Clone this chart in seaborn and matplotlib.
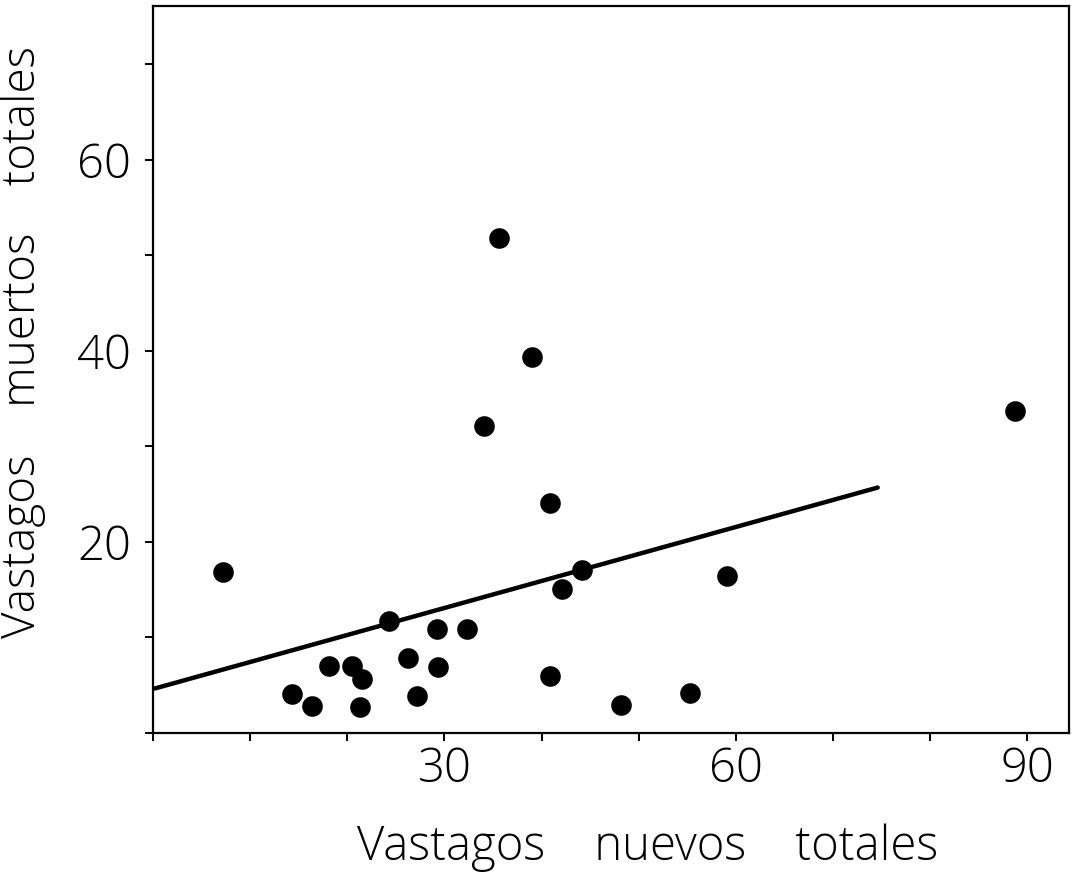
import numpy as np
import pandas as pd
import matplotlib
matplotlib.use("Agg")
import matplotlib.pyplot as plt
from matplotlib.ticker import MultipleLocator, FixedLocator
import seaborn as sns

# Shoot counts per plot: new shoots vs dead shoots
nuevos = [7.2, 14.3, 16.4, 18.1, 20.5, 21.5, 21.3, 24.3, 26.3, 27.2, 29.2, 29.3,
          32.3, 34.1, 35.6, 39.0, 40.9, 40.9, 42.1, 44.2, 48.2, 55.3, 59.1, 88.7]
muertos = [16.9, 4.1, 2.8, 7.0, 7.0, 5.7, 2.7, 11.7, 7.9, 3.9, 10.9, 6.9,
           10.9, 32.1, 51.8, 39.4, 24.1, 6.0, 15.1, 17.1, 2.9, 4.2, 16.4, 33.7]

# Span over which the fitted line is drawn
fit_span = [0.2, 74.6]

x_ticks_major = [30, 60, 90]
y_ticks_major = [20, 40, 60]

df = pd.DataFrame({"nuevos": nuevos, "muertos": muertos})
slope, intercept = np.polyfit(df["nuevos"], df["muertos"], 1)
line = pd.DataFrame({"x": fit_span})
line["y"] = intercept + slope * line["x"]

sns.set_style("white")
plt.rcParams["font.family"] = ["Open Sans", "DejaVu Sans"]
plt.rcParams["font.weight"] = "light"
plt.rcParams["text.color"] = "black"
plt.rcParams["xtick.color"] = "black"
plt.rcParams["ytick.color"] = "black"
plt.rcParams["axes.labelcolor"] = "black"
plt.rcParams["axes.labelweight"] = "light"

fig = plt.figure(figsize=(10.73, 8.72), dpi=100)
ax = fig.add_axes([0.1426, 0.1594, 0.8537, 0.8337])

sns.lineplot(data=line, x="x", y="y", ax=ax, color="black", linewidth=3.2)
sns.scatterplot(data=df, x="nuevos", y="muertos", ax=ax, color="black",
                s=220, edgecolor="black", linewidth=0, zorder=3)

ax.set_xlim(0, 94.3)
ax.set_ylim(0, 76.1)
ax.xaxis.set_major_locator(FixedLocator(x_ticks_major))
ax.xaxis.set_minor_locator(MultipleLocator(10))
ax.yaxis.set_major_locator(FixedLocator(y_ticks_major))
ax.yaxis.set_minor_locator(MultipleLocator(10))

for s in ax.spines.values():
    s.set_linewidth(1.6)
    s.set_color("black")

ax.tick_params(axis="both", which="both", direction="out", color="black",
               width=1.4, length=6, bottom=True, left=True)
ax.tick_params(axis="x", labelsize=34, pad=3)
ax.tick_params(axis="y", labelsize=34, pad=10)
for lab in ax.get_xticklabels() + ax.get_yticklabels():
    lab.set_fontweight("light")

ax.set_xlabel("Vastagos    nuevos    totales", fontsize=34, fontweight="light")
ax.set_ylabel("Vastagos    muertos    totales", fontsize=33, fontweight="light")
ax.xaxis.set_label_coords(0.54, -0.124)
ax.yaxis.set_label_coords(-0.117, 0.538)

fig.savefig("out.png", dpi=100)
